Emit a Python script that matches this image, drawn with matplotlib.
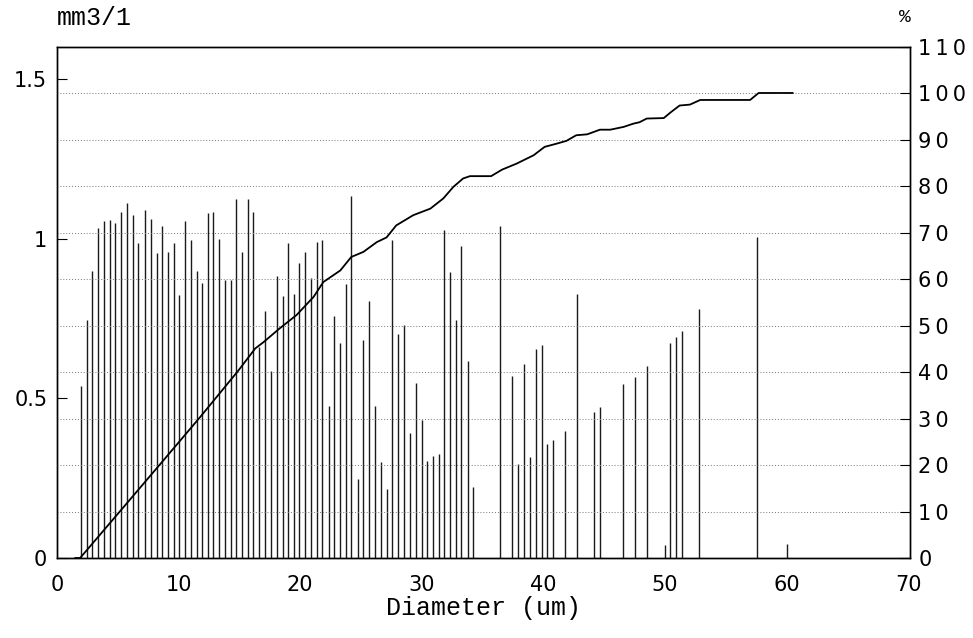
import matplotlib
matplotlib.use('Agg')
import matplotlib.pyplot as plt
from matplotlib.ticker import FuncFormatter

# particle volume per size class (mm3/l)
diam = [1.97, 2.44, 2.88, 3.34, 3.87, 4.36, 4.80, 5.26, 5.76, 6.22,
        6.70, 7.24, 7.70, 8.20, 8.66, 9.13, 9.62, 10.06, 10.50, 11.00,
        11.49, 11.95, 12.39, 12.86, 13.35, 13.80, 14.28, 14.75, 15.24, 15.70,
        16.12, 16.64, 17.10, 17.60, 18.07, 18.56, 19.02, 19.49, 19.93, 20.40,
        20.86, 21.35, 21.82, 22.34, 22.80, 23.27, 23.74, 24.20, 24.73, 25.19,
        25.68, 26.15, 26.64, 27.10, 27.57, 28.07, 28.54, 29.03, 29.50, 29.99,
        30.45, 30.95, 31.41, 31.85, 32.32, 32.81, 33.25, 33.77, 34.24, 36.43,
        37.44, 37.94, 38.43, 38.90, 39.37, 39.86, 40.32, 40.82, 41.78, 42.74,
        44.16, 44.65, 46.57, 47.53, 48.49, 49.97, 50.41, 50.90, 51.37, 52.80,
        57.59, 60.06]
volume = [0.540, 0.744, 0.898, 1.033, 1.056, 1.058, 1.049, 1.082, 1.112, 1.075,
          0.985, 1.090, 1.060, 0.954, 1.040, 0.957, 0.985, 0.822, 1.056, 0.996,
          0.900, 0.860, 1.080, 1.082, 0.999, 0.872, 0.872, 1.124, 0.957, 1.124,
          1.082, 0.660, 0.773, 0.585, 0.884, 0.820, 0.986, 0.827, 0.924, 0.957,
          0.877, 0.989, 0.996, 0.477, 0.759, 0.673, 0.858, 1.134, 0.246, 0.683,
          0.806, 0.477, 0.301, 0.215, 0.996, 0.702, 0.731, 0.390, 0.548, 0.431,
          0.303, 0.319, 0.327, 1.028, 0.895, 0.746, 0.978, 0.617, 0.221, 1.040,
          0.569, 0.294, 0.606, 0.317, 0.655, 0.668, 0.358, 0.371, 0.397, 0.827,
          0.457, 0.473, 0.544, 0.567, 0.602, 0.041, 0.673, 0.692, 0.710, 0.780,
          1.006, 0.043]

# cumulative volume (%)
cum_x = [1.5, 1.9, 5.26, 8.55, 11.76, 14.9, 16.3, 17.0, 18.3, 19.7,
         21.1, 21.9, 23.3, 24.2, 25.2, 26.3, 27.1, 27.9, 29.3, 30.7,
         31.77, 32.6, 33.4, 33.96, 35.7, 36.6, 37.8, 39.2, 40.1, 41.1,
         41.9, 42.7, 43.6, 44.65, 45.5, 46.6, 47.4, 47.9, 48.5, 49.9,
         50.5, 51.2, 52.05, 52.9, 57.0, 57.7, 60.5]
cum_pct = [0, 0, 10.3, 20.4, 30.3, 40.3, 45.1, 46.5, 49.4, 52.3,
           56.2, 59.4, 61.9, 64.8, 65.9, 68.0, 69.0, 71.6, 73.8, 75.2,
           77.4, 79.9, 81.7, 82.2, 82.2, 83.6, 84.9, 86.7, 88.5, 89.2,
           89.8, 91.0, 91.2, 92.2, 92.2, 92.8, 93.5, 93.8, 94.6, 94.7,
           96.0, 97.4, 97.6, 98.6, 98.6, 100.1, 100.1]

W, H = 973, 638
fig = plt.figure(figsize=(W / 100, H / 100), dpi=100)
ax = fig.add_axes([57 / W, 1 - 558 / H, (910 - 57) / W, (558 - 47) / H])

ax.vlines(diam, 0, volume, colors='#1a1a1a', lw=1.0)
ax.set_xlim(0, 70.15)
ax.set_ylim(0, 1.6)
ax.set_xticks(range(0, 71, 10))
ax.set_yticks([0, 0.5, 1, 1.5])
ax.set_yticklabels(['0', '0.5', '1', '1.5'])
ax.tick_params(axis='y', direction='in', length=7, pad=7, labelsize=15)
ax.tick_params(axis='x', length=0, pad=12, labelsize=15)

ax2 = ax.twinx()
ax2.set_ylim(0, 110)
ax2.set_yticks(range(0, 111, 10))
ax2.yaxis.set_major_formatter(FuncFormatter(lambda v, p: '\u2009'.join(str(int(v)))))
ax2.yaxis.grid(True, linestyle=(0, (1, 2)), color='#777777', lw=0.7)
ax2.tick_params(axis='y', direction='in', length=7, pad=6, labelsize=15)
ax2.plot(cum_x, cum_pct, color='black', lw=1.3)

for a in (ax, ax2):
    for s in a.spines.values():
        s.set_linewidth(1.0)

fig.text(483 / W, 1 - 608 / H, 'Diameter (um)', ha='center', va='center',
         fontsize=18, family='Liberation Mono')
fig.text(57 / W, 1 - 18 / H, 'mm3/1', ha='left', va='center',
         fontsize=18, family='Liberation Mono')
fig.text(905 / W, 1 - 18 / H, '%', ha='center', va='center',
         fontsize=14, family='Liberation Mono')

fig.savefig('out.png', dpi=100)
